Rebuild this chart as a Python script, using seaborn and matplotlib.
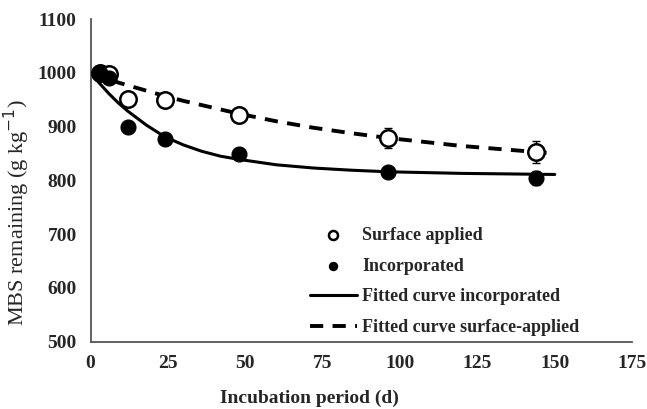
import matplotlib
matplotlib.use("Agg")
import matplotlib.pyplot as plt
import seaborn as sns
import pandas as pd

days = [3, 6, 12, 24, 48, 96, 144]
surface = [1000, 998, 952, 950, 921, 879, 853]
surface_err = [3, 3, 5, 5, 6, 19, 20]
incorporated = [1000, 990, 900, 877, 850, 816, 805]
incorporated_err = [3, 3, 5, 5, 5, 5, 13]

# Fitted curves
fit_days = [0, 3, 6, 9, 12, 18, 24, 30, 36, 42, 48, 60, 72, 84, 96, 120, 150]
fit_incorporated = [1000, 980, 961, 944, 929, 903, 881, 866, 854, 845, 839,
                    829, 823, 819, 816, 813, 811]
fit_surface = [1000, 994, 988, 982, 977, 967, 957, 948, 940, 932, 924,
               910, 898, 888, 879, 864, 850]

pts = pd.DataFrame({"day": days, "surface": surface, "incorporated": incorporated})
fit = pd.DataFrame({"day": fit_days, "inc": fit_incorporated, "surf": fit_surface})

sns.set_theme(style="white")
plt.rcParams["font.family"] = ["Liberation Serif", "DejaVu Serif"]

fig = plt.figure(figsize=(6.47, 4.09), dpi=100)
ax = fig.add_axes([0.140, 0.165, 0.837, 0.788])

sns.lineplot(data=fit, x="day", y="inc", color="black", lw=2.2, ax=ax,
             label="Fitted curve incorporated", zorder=2)
sns.lineplot(data=fit, x="day", y="surf", color="black", lw=2.8, ax=ax,
             label="Fitted curve surface-applied", zorder=2)
ax.lines[1].set_dashes([3.4, 2.4])

ax.errorbar(days, surface, yerr=surface_err, fmt="none", ecolor="black",
            elinewidth=1, capsize=3, zorder=3)
ax.errorbar(days, incorporated, yerr=incorporated_err, fmt="none", ecolor="black",
            elinewidth=1, capsize=3, zorder=3)

sns.scatterplot(data=pts, x="day", y="surface", s=140, facecolor="white",
                edgecolor="black", linewidth=1.8, ax=ax, zorder=4,
                label="Surface applied")
sns.scatterplot(data=pts, x="day", y="incorporated", s=115, color="black",
                edgecolor="black", ax=ax, zorder=5, label="Incorporated")

ax.set_xlim(0, 175)
ax.set_ylim(500, 1100)
ax.set_xticks(range(0, 176, 25))
ax.set_yticks(range(500, 1101, 100))

for s in ["top", "right"]:
    ax.spines[s].set_visible(False)
for s in ["left", "bottom"]:
    ax.spines[s].set_color("#555555")
    ax.spines[s].set_linewidth(1.3)
ax.tick_params(axis="both", direction="out", length=5, width=1.2,
               color="#555555", labelsize=14, pad=5)
for t in ax.get_xticklabels() + ax.get_yticklabels():
    t.set_fontweight("bold")

ax.set_xlabel("Incubation period (d)", fontsize=14, fontweight="bold")
ax.set_ylabel("MBS remaining (g kg$^{-1}$)", fontsize=16)
ax.xaxis.set_label_coords(0.405, -0.148)
ax.yaxis.set_label_coords(-0.108, 0.40)

h, l = ax.get_legend_handles_labels()
order = ["Surface applied", "Incorporated", "Fitted curve incorporated",
         "Fitted curve surface-applied"]
hh = [h[l.index(o)] for o in order]
ax.legend(hh, order, loc="upper left", bbox_to_anchor=(0.375, 0.405), frameon=False,
          prop={"weight": "bold", "size": 13}, handlelength=2.6,
          labelspacing=0.75, handletextpad=0.3, markerscale=0.55)

fig.savefig("out.png", dpi=100)
